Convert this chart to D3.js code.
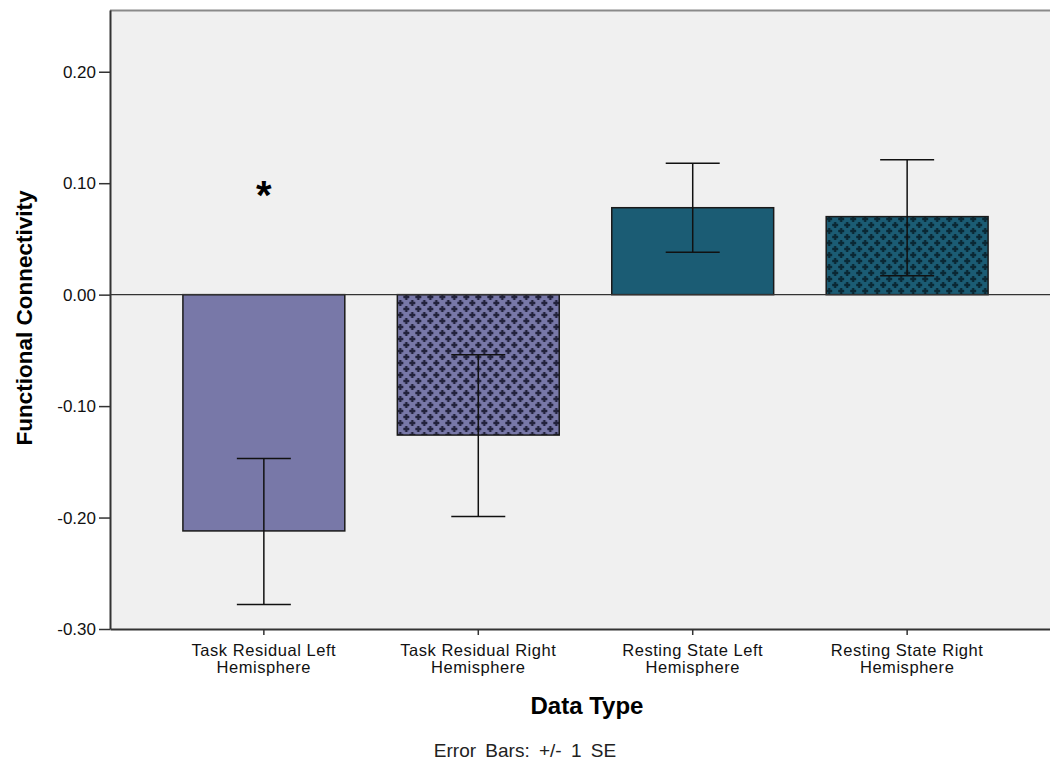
<!DOCTYPE html>
<html><head><meta charset="utf-8">
<script src="https://cdn.jsdelivr.net/npm/d3@7"></script>
<style>
html,body{margin:0;padding:0;background:#fff;}
svg{display:block;font-family:"Liberation Sans",Arial,sans-serif;}
</style></head>
<body>
<svg id="chart" width="1050" height="766"></svg>
<script>
const categories = ["Task Residual Left|Hemisphere","Task Residual Right|Hemisphere","Resting State Left|Hemisphere","Resting State Right|Hemisphere"];
const means = [-0.212, -0.126, 0.078, 0.070];
const seLow = [-0.278, -0.199, 0.038, 0.017];
const seHigh = [-0.147, -0.054, 0.118, 0.121];
const fills = ["#7878a8","#7878a8","#1b5c74","#1b5c74"];
const patterned = [false,true,false,true];
const yTicks = [-0.30,-0.20,-0.10,0.00,0.10,0.20];

const svg = d3.select("#chart");
const L = 110, T = 10, B = 629, R = 1061;

const x = d3.scaleBand().domain(categories).range([L, R]).paddingInner(0.245).paddingOuter(0.34);
const y = d3.scaleLinear().domain([-0.30, 0.2554]).range([B, T]);

const defs = svg.append("defs");
fills.forEach((c,i)=>{
  if(!patterned[i]) return;
  const s = 12;
  const p = defs.append("pattern").attr("id","pat"+i).attr("patternUnits","userSpaceOnUse")
    .attr("width",s).attr("height",s).attr("x", x(categories[i])).attr("y", 0);
  p.append("rect").attr("width",s).attr("height",s).attr("fill",c);
  const dark = i===1 ? "#22223c" : "#0a2834";
  [[3,3],[9,9]].forEach(([cx,cy])=>{
    p.append("rect").attr("x",cx-3).attr("y",cy-1.2).attr("width",6).attr("height",2.4).attr("fill",dark);
    p.append("rect").attr("x",cx-1.2).attr("y",cy-3).attr("width",2.4).attr("height",6).attr("fill",dark);
  });
});

// plot background
svg.append("rect").attr("x",L).attr("y",T).attr("width",R-L).attr("height",B-T).attr("fill","#f0f0f0");
svg.append("line").attr("x1",L).attr("x2",R).attr("y1",T+0.5).attr("y2",T+0.5).attr("stroke","#8a8a8a").attr("stroke-width",2);

// bars
svg.append("g").selectAll("rect").data(categories).join("rect")
  .attr("x", d=>x(d)).attr("width", x.bandwidth())
  .attr("y", (d,i)=>y(Math.max(0,means[i])))
  .attr("height", (d,i)=>Math.abs(y(means[i])-y(0)))
  .attr("fill", (d,i)=> patterned[i] ? "url(#pat"+i+")" : fills[i])
  .attr("stroke","#1a1a1a").attr("stroke-width",1.5);

// zero line
svg.append("line").attr("x1",L).attr("x2",R).attr("y1",y(0)).attr("y2",y(0)).attr("stroke","#333").attr("stroke-width",1.2);

// error bars
const cap = 27;
const eg = svg.append("g").attr("stroke","#111").attr("stroke-width",1.5);
categories.forEach((c,i)=>{
  const cx = x(c)+x.bandwidth()/2;
  eg.append("line").attr("x1",cx).attr("x2",cx).attr("y1",y(seLow[i])).attr("y2",y(seHigh[i]));
  eg.append("line").attr("x1",cx-cap).attr("x2",cx+cap).attr("y1",y(seLow[i])).attr("y2",y(seLow[i]));
  eg.append("line").attr("x1",cx-cap).attr("x2",cx+cap).attr("y1",y(seHigh[i])).attr("y2",y(seHigh[i]));
});

// asterisk
svg.append("text").attr("x", x(categories[0])+x.bandwidth()/2).attr("y", y(0.077))
  .attr("text-anchor","middle").attr("font-size",40).attr("font-weight","bold").attr("fill","#000").text("*");

// y axis
const yAxis = svg.append("g").attr("transform",`translate(${L},0)`)
  .call(d3.axisLeft(y).tickValues(yTicks).tickFormat(d=>d3.format(".2f")(d).replace("\u2212","-")).tickSize(11).tickSizeOuter(0).tickPadding(3));
yAxis.select(".domain").attr("stroke","#333").attr("stroke-width",2);
yAxis.selectAll(".tick line").attr("stroke","#333").attr("stroke-width",1.5);
yAxis.selectAll(".tick text").attr("font-size",17).attr("fill","#111").attr("font-family","Liberation Sans, Arial, sans-serif");

// x axis
const xAxis = svg.append("g").attr("transform",`translate(0,${B})`)
  .call(d3.axisBottom(x).tickSize(6).tickSizeOuter(0).tickFormat(()=>""));
xAxis.select(".domain").attr("stroke","#333").attr("stroke-width",2);
xAxis.selectAll(".tick line").attr("stroke","#333").attr("stroke-width",1.5);
xAxis.selectAll(".tick").each(function(d){
  const parts = d.split("|");
  const t = d3.select(this).append("text").attr("fill","#111").attr("font-size",16.5)
    .attr("letter-spacing",0.55)
    .attr("text-anchor","middle").attr("font-family","Liberation Sans, Arial, sans-serif");
  parts.forEach((p,k)=> t.append("tspan").attr("x",0).attr("y",27+k*17).text(p));
});

// titles
svg.append("text").attr("transform","translate(32,318) rotate(-90)").attr("text-anchor","middle")
  .attr("font-size",22.5).attr("font-weight","bold").attr("fill","#000").text("Functional Connectivity");
svg.append("text").attr("x",587).attr("y",714).attr("text-anchor","middle")
  .attr("font-size",24).attr("font-weight","bold").attr("fill","#000").text("Data Type");
svg.append("text").attr("x",525).attr("y",757).attr("text-anchor","middle")
  .attr("font-size",19).attr("word-spacing",4).attr("fill","#222").attr("xml:space","preserve").text("Error Bars: +/- 1 SE");
</script>
</body></html>
